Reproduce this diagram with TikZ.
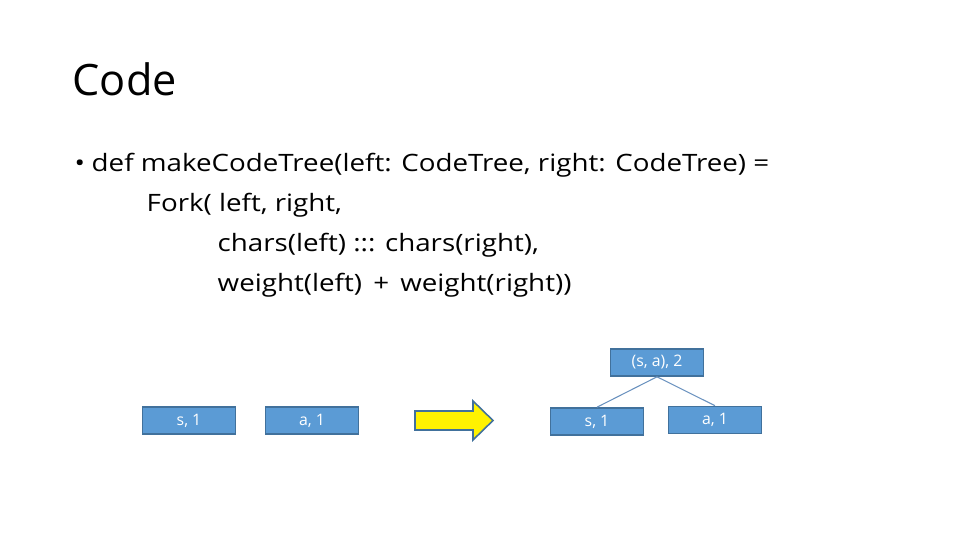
\documentclass[tikz,border=0pt]{standalone}
\usepackage{fontspec}
\setmainfont{Open Sans}
\newfontfamily\codefont[FakeStretch=1.16]{Open Sans}
\definecolor{boxblue}{RGB}{91,155,213}
\definecolor{boxline}{RGB}{65,113,156}
\definecolor{linkblue}{RGB}{105,145,190}
\tikzset{
  leaf/.style={draw=boxline, fill=boxblue, line width=0.45pt, minimum width=0.93cm,
    minimum height=0.27cm, inner sep=0pt, text=white, font=\fontsize{4.5}{5}\selectfont},
  codeline/.style={anchor=base west, inner sep=0pt, font=\codefont\fontsize{6.8}{8}\selectfont},
  link/.style={draw=linkblue, line width=0.3pt}
}
\begin{document}
\begin{tikzpicture}[x=0.01cm,y=-0.01cm]
\useasboundingbox (0,0) rectangle (960,540);
\node[anchor=base west, inner sep=0pt, font=\fontsize{12.3}{15}\selectfont] (title) at (72,96) {Code};

\node[codeline] (bullet) at (74,172) {\textbullet};
\node[codeline] (line1) at (91,172) {def makeCodeTree(left: CodeTree, right: CodeTree) =};
\node[codeline] (line2) at (146,212) {Fork( left, right,};
\node[codeline] (line3) at (217,252) {chars(left) ::: chars(right),};
\node[codeline] (line4) at (217,292) {weight(left) \,+\, weight(right))};

\node[leaf] (s) at (189,420.5) {s, 1};
\node[leaf] (a) at (312,420.5) {a, 1};
\filldraw[draw=boxline, fill=yellow, line width=0.45pt]
  (415,411) -- (473,411) -- (473,401) -- (493,420.5) -- (473,440) -- (473,430) -- (415,430) -- cycle;

\node[leaf] (sa) at (657,362.5) {(s, a), 2};
\node[leaf] (s2) at (597,421.5) {s, 1};
\node[leaf] (a2) at (715,420) {a, 1};
\draw[link] (sa.south) -- (s2.north);
\draw[link] (sa.south) -- (a2.north);
\end{tikzpicture}
\end{document}
